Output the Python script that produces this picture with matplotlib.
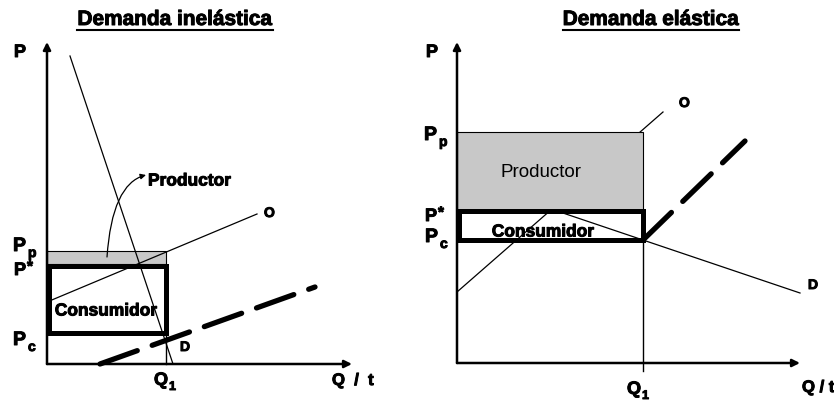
import matplotlib.pyplot as plt
import matplotlib.patheffects as pe
from matplotlib.patches import Rectangle, FancyArrowPatch
from matplotlib.path import Path

plt.rcParams['font.family'] = ['Liberation Sans', 'DejaVu Sans']

# everything is laid out on a 834 x 402 canvas (y grows downwards)
W, H = 834, 402

# --- inelastic demand panel ---
inel_origin = (47, 365)
inel_ytop = 43
inel_xend = 352
inel_demand_x = [70, 173]
inel_demand_y = [57, 365]
inel_supply_x = [47, 257]
inel_supply_y = [303, 215]
inel_taxed_x = [100, 315]
inel_taxed_y = [365, 288]
inel_pp, inel_pstar, inel_pc = 252, 267, 334
inel_q1 = 166
# pointer from the gray strip up to the "Productor" label
inel_pointer = [(107, 258), (112, 185), (146, 176)]

# --- elastic demand panel ---
el_origin = (457, 364)
el_ytop = 43
el_xend = 800
el_demand_x = [557, 800]
el_demand_y = [212, 294]
el_supply_x = [457, 663]
el_supply_y = [293, 113]
el_taxed_x = [643, 745]
el_taxed_y = [241, 142]
el_pp, el_pstar, el_pc = 133, 212, 241
el_q1 = 643

fig = plt.figure(figsize=(W / 100, H / 100), dpi=100)
ax = fig.add_axes([0, 0, 1, 1])
ax.set_xlim(0, W)
ax.set_ylim(H, 0)
ax.axis('off')

GRAY = '#c8c8c8'
HEAVY = [pe.withStroke(linewidth=0.7, foreground='k')]
DASH = (0, (7.5, 3))


def btext(x, y, s, size, **kw):
    kw.setdefault('ha', 'left')
    kw.setdefault('va', 'baseline')
    return ax.text(x, y, s, fontsize=size, fontweight='bold',
                   path_effects=HEAVY, **kw)


def axes_arrows(origin, ytop, xend):
    x0, y0 = origin
    for tip in [(x0, ytop), (xend, y0)]:
        ax.annotate('', xy=tip, xytext=(x0, y0),
                    arrowprops=dict(arrowstyle='-|>', lw=1.8, color='k',
                                    mutation_scale=11, shrinkA=0, shrinkB=0))


def p_label(x, y, sub, size=14):
    btext(x, y, 'P', size)
    if sub == '*':
        btext(x + 13, y - 4, '*', size - 2)
    else:
        btext(x + 15, y + 6, sub, size - 4)


def q_labels(xq, y, xt, yt, qt):
    btext(xq, y, 'Q', 13, ha='right')
    btext(xq + 1, y + 5, '1', 9)
    btext(xt, yt, qt, 12)


def title(x, s):
    t = btext(x, 26, s, 15, ha='center')
    fig.canvas.draw()
    bb = t.get_window_extent().transformed(ax.transData.inverted())
    ax.plot([bb.x0, bb.x1], [30.5, 30.5], color='k', lw=1.5)


# ---------------- left: inelastic demand ----------------
x0, y0 = inel_origin
axes_arrows(inel_origin, inel_ytop, inel_xend)
ax.add_patch(Rectangle((x0, inel_pp), inel_q1 - x0, inel_pstar - inel_pp - 2,
                       facecolor=GRAY, edgecolor='k', lw=0.8, zorder=2))
ax.add_patch(Rectangle((x0 + 2, inel_pstar), inel_q1 - x0 - 2, inel_pc - inel_pstar,
                       facecolor='none', edgecolor='k', lw=3.6, zorder=3))
ax.plot([inel_q1, inel_q1], [inel_pc, y0], color='k', lw=1.0, zorder=3)
ax.plot(inel_supply_x, inel_supply_y, color='k', lw=0.9, zorder=4)
ax.plot(inel_demand_x, inel_demand_y, color='k', lw=0.9, zorder=4)
ax.plot(inel_taxed_x, inel_taxed_y, color='k', lw=3.8,
        linestyle=DASH, dash_capstyle='round', zorder=4)

btext(20, 58, 'P', 13, ha='center')
p_label(13, 252, 'p')
p_label(14, 276, '*', size=13)
p_label(13, 346, 'c')
q_labels(168, 386, 332, 386, 'Q  /  t')
btext(264, 218, 'O', 10)
btext(180, 352, 'D', 10)
btext(106, 312, 'Consumidor', 12.5, ha='center', va='center', zorder=5)
btext(148, 182, 'Productor', 12.5, va='center')
pointer = Path(inel_pointer, [Path.MOVETO, Path.CURVE3, Path.CURVE3])
ax.add_patch(FancyArrowPatch(path=pointer, arrowstyle='-|>', mutation_scale=8,
                             lw=0.9, color='k', zorder=5))
title(175, 'Demanda inelástica')

# ---------------- right: elastic demand ----------------
x0, y0 = el_origin
ax.plot(el_supply_x, el_supply_y, color='k', lw=0.9, zorder=1)
axes_arrows(el_origin, el_ytop, el_xend)
ax.add_patch(Rectangle((x0, el_pp), el_q1 - x0, el_pstar - el_pp,
                       facecolor=GRAY, edgecolor='k', lw=0.8, zorder=2))
ax.add_patch(Rectangle((x0 + 2, el_pstar), el_q1 - x0 - 2, el_pc - el_pstar,
                       facecolor='none', edgecolor='k', lw=3.6, zorder=3))
ax.plot([el_q1, el_q1], [el_pc, y0 + 8], color='k', lw=1.0, zorder=3)
ax.plot(el_demand_x, el_demand_y, color='k', lw=0.9, zorder=4)
ax.plot(el_taxed_x, el_taxed_y, color='k', lw=3.8,
        linestyle=DASH, dash_capstyle='round', zorder=4)

btext(432, 58, 'P', 13, ha='center')
p_label(424, 141, 'p')
p_label(425, 222, '*', size=13)
p_label(425, 243, 'c')
q_labels(641, 395, 802, 393, 'Q / t')
btext(679, 108, 'O', 10)
btext(808, 290, 'D', 10)
btext(543, 233, 'Consumidor', 12.5, ha='center', va='center', zorder=5)
ax.text(541, 173, 'Productor', fontsize=13.5, ha='center', va='center')
title(651, 'Demanda elástica')

fig.savefig('out.png', dpi=100)
